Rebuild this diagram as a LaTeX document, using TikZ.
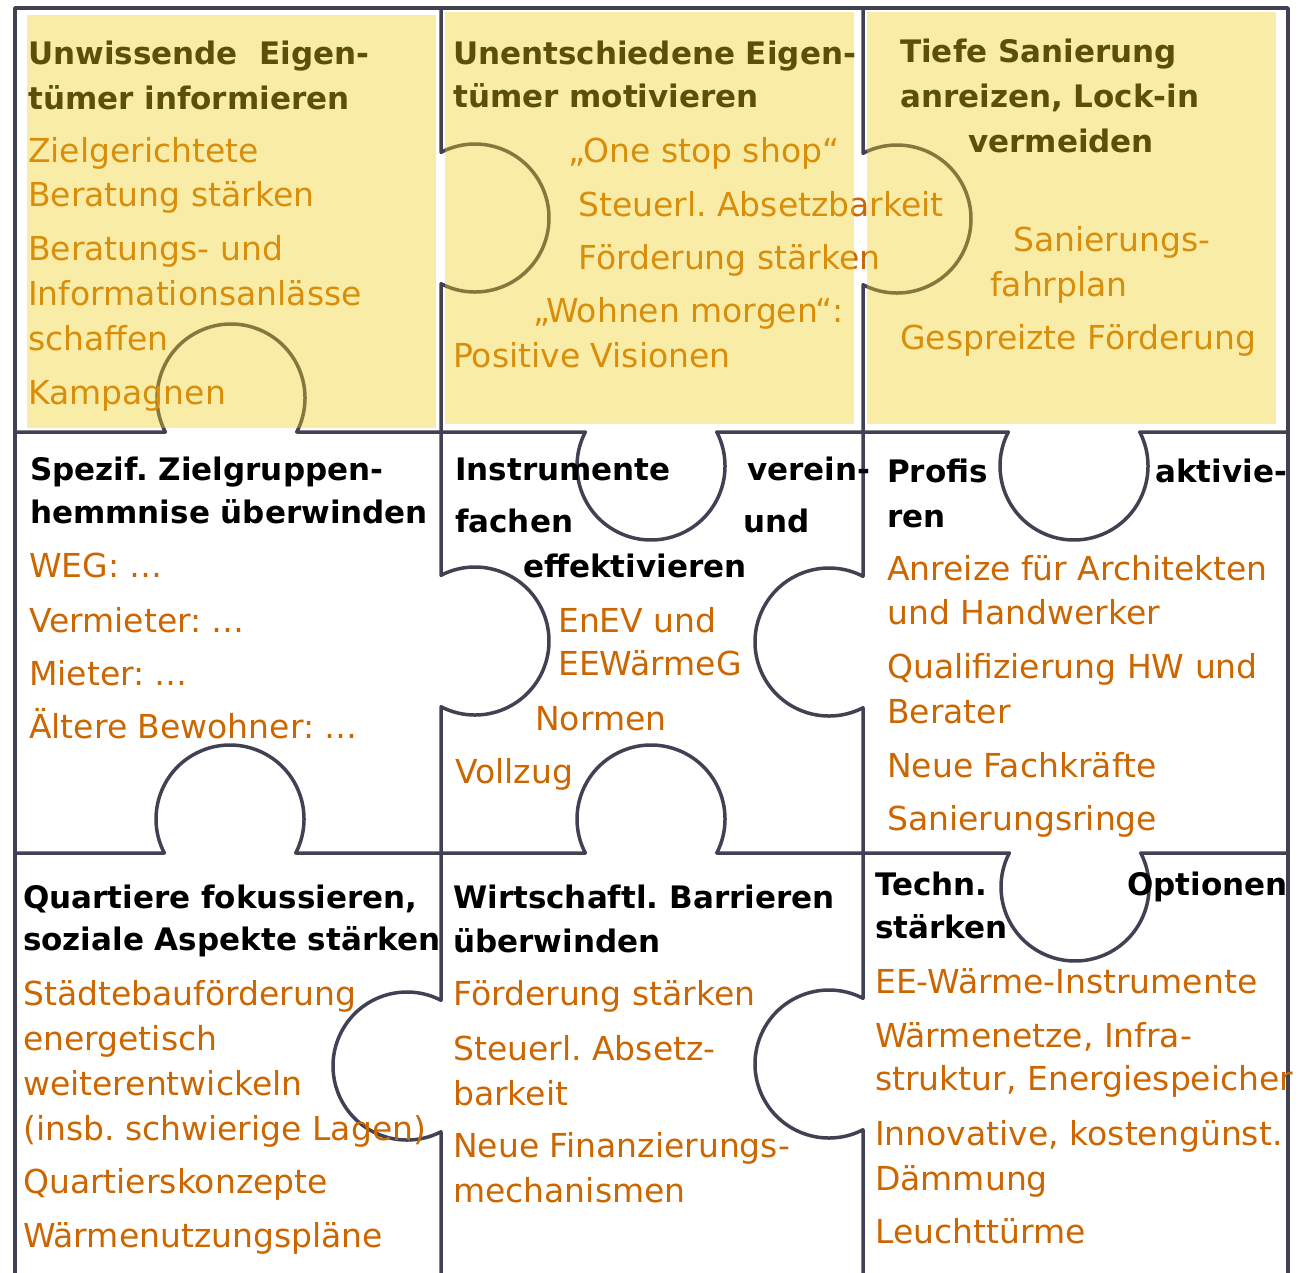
\documentclass[tikz,border=0pt]{standalone}
\usepackage{fontspec}
\setmainfont{DejaVu Sans}
\frenchspacing

\definecolor{gridcol}{RGB}{64,66,84}
\definecolor{itemcol}{RGB}{204,102,0}
\definecolor{veilcol}{RGB}{237,206,27}

\begin{document}
\begin{tikzpicture}[x=1pt,y=-1pt,
  edge/.style={line width=3.5pt,color=gridcol,line join=round},
  veil/.style={fill=veilcol,fill opacity=0.39},
  head/.style={anchor=base west,inner sep=0pt,font=\fontsize{31}{37}\selectfont\bfseries},
  item/.style={anchor=base west,inner sep=0pt,text=itemcol,font=\fontsize{33}{40}\selectfont}]
\useasboundingbox (0,0) rectangle (1299,1273);

% puzzle lines
\draw[edge] (15,1273) -- (15,8) -- (1288,8) -- (1288,1273);
\draw[edge] (15,432) -- (165.3,432) arc[start angle=152.65,end angle=387.35,radius=74]
  -- (585.3,432) arc[start angle=207.35,end angle=-27.35,radius=74]
  -- (1008.3,432) arc[start angle=207.35,end angle=-27.35,radius=74] -- (1288,432);
\draw[edge] (15,853) -- (164.3,853) arc[start angle=152.65,end angle=387.35,radius=74]
  -- (585.3,853) arc[start angle=152.65,end angle=387.35,radius=74]
  -- (1009.3,853) arc[start angle=207.35,end angle=-27.35,radius=74] -- (1288,853);
\draw[edge] (441,8) -- (441,152.3) arc[start angle=-117.35,end angle=117.35,radius=74]
  -- (441,575.3) arc[start angle=-117.35,end angle=117.35,radius=74]
  -- (441,1000.3) arc[start angle=297.35,end angle=62.65,radius=74] -- (441,1273);
\draw[edge] (863,8) -- (863,153.3) arc[start angle=-117.35,end angle=117.35,radius=74]
  -- (863,576.3) arc[start angle=297.35,end angle=62.65,radius=74]
  -- (863,998.3) arc[start angle=297.35,end angle=62.65,radius=74] -- (863,1273);

% top row
\node[head] (h11) at (28,65) {Unwissende\ \ Eigen-};
\node[head] (h12) at (28,110) {tümer informieren};
\node[item] (i11) at (28,163) {Zielgerichtete};
\node[item] (i12) at (28,207) {Beratung stärken};
\node[item] (i13) at (28,261) {Beratungs- und};
\node[item] (i14) at (28,306) {Informationsanlässe};
\node[item] (i15) at (28,351) {schaffen};
\node[item] (i16) at (28,404) {Kampagnen};

\node[head] (h21) at (453,65) {Unentschiedene Eigen-};
\node[head] (h22) at (453,108) {tümer motivieren};
\node[item] (i21) at (568,163) {„One stop shop“};
\node[item] (i22) at (578,217) {Steuerl. Absetzbarkeit};
\node[item] (i23) at (578,270) {Förderung stärken};
\node[item] (i24) at (533,323) {„Wohnen morgen“:};
\node[item] (i25) at (453,368) {Positive Visionen};

\node[head] (h31) at (900,63) {Tiefe Sanierung};
\node[head] (h32) at (900,108) {anreizen, Lock-in};
\node[head] (h33) at (968,153) {vermeiden};
\node[item] (i31) at (1013,252) {Sanierungs-};
\node[item] (i32) at (990,297) {fahrplan};
\node[item] (i33) at (900,350) {Gespreizte Förderung};

% middle row
\node[head] (h41) at (30,480) {Spezif. Zielgruppen-};
\node[head] (h42) at (30,523) {hemmnise überwinden};
\node[item] (i41) at (29,577) {WEG: …};
\node[item] (i42) at (29,632) {Vermieter: …};
\node[item] (i43) at (29,685) {Mieter: …};
\node[item] (i44) at (29,738) {Ältere Bewohner: …};

\node[head] (h51) at (455,480) {Instrumente};
\node[head] (h52) at (747,480) {verein-};
\node[head] (h53) at (455,532) {fachen};
\node[head] (h54) at (743,532) {und};
\node[head] (h55) at (523,577) {effektivieren};
\node[item] (i51) at (558,632) {EnEV und};
\node[item] (i52) at (558,675) {EEWärmeG};
\node[item] (i53) at (535,730) {Normen};
\node[item] (i54) at (455,783) {Vollzug};

\node[head] (h61) at (887,482) {Profis};
\node[head] (h62) at (1155,482) {aktivie-};
\node[head] (h63) at (887,527) {ren};
\node[item] (i61) at (887,580) {Anreize für Architekten};
\node[item] (i62) at (887,624) {und Handwerker};
\node[item] (i63) at (887,678) {Qualifizierung HW und};
\node[item] (i64) at (887,723) {Berater};
\node[item] (i65) at (887,777) {Neue Fachkräfte};
\node[item] (i66) at (887,830) {Sanierungsringe};

% bottom row
\node[head] (h71) at (23,908) {Quartiere fokussieren,};
\node[head] (h72) at (23,950) {soziale Aspekte stärken};
\node[item] (i71) at (23,1005) {Städtebauförderung};
\node[item] (i72) at (23,1050) {energetisch};
\node[item] (i73) at (23,1095) {weiterentwickeln};
\node[item] (i74) at (23,1140) {(insb. schwierige Lagen)};
\node[item] (i75) at (23,1193) {Quartierskonzepte};
\node[item] (i76) at (23,1247) {Wärmenutzungspläne};

\node[head] (h81) at (453,908) {Wirtschaftl. Barrieren};
\node[head] (h82) at (453,952) {überwinden};
\node[item] (i81) at (453,1005) {Förderung stärken};
\node[item] (i82) at (453,1060) {Steuerl. Absetz-};
\node[item] (i83) at (453,1105) {barkeit};
\node[item] (i84) at (453,1157) {Neue Finanzierungs-};
\node[item] (i85) at (453,1202) {mechanismen};

\node[head] (h91) at (875,895) {Techn.};
\node[head] (h92) at (1127,895) {Optionen};
\node[head] (h93) at (875,938) {stärken};
\node[item] (i91) at (875,993) {EE-Wärme-Instrumente};
\node[item] (i92) at (875,1047) {Wärmenetze, Infra-};
\node[item] (i93) at (875,1090) {struktur, Energiespeicher};
\node[item] (i94) at (875,1145) {Innovative, kostengünst.};
\node[item] (i95) at (875,1190) {Dämmung};
\node[item] (i96) at (875,1243) {Leuchttürme};

% yellow veil over the top row
\fill[veil] (27,15) rectangle (436,428);
\fill[veil] (445,12) rectangle (854,424);
\fill[veil] (867,12) rectangle (1276,424);
\end{tikzpicture}
\end{document}
